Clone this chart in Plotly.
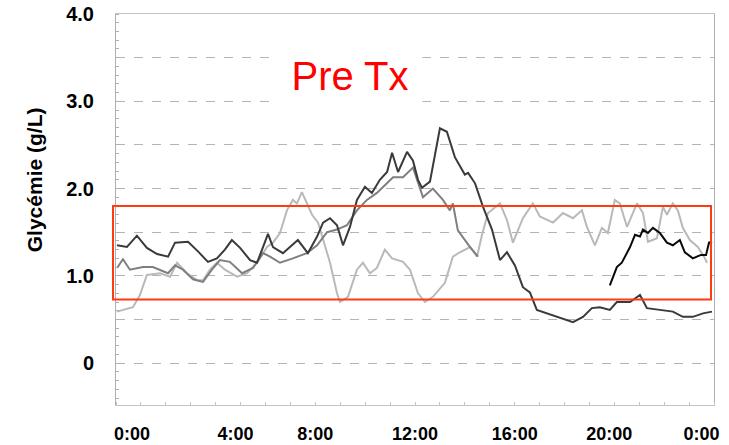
import plotly.graph_objects as go

# ---------------- data (hours of day, glycaemia g/L) ----------------
dark_t = [0.04, 0.44, 0.84, 1.24, 1.65, 2.09, 2.37, 2.89, 3.29, 3.69, 4.05, 4.37, 4.65, 4.98, 5.38,
          5.66, 5.90, 6.10, 6.30, 6.70, 7.06, 7.30, 7.70, 8.07, 8.31, 8.59, 8.87, 9.11, 9.39, 9.67,
          9.99, 10.27, 10.59, 10.88, 11.08, 11.32, 11.68, 11.92, 12.12, 12.28, 12.60, 13.00, 13.28,
          13.60, 14.00, 14.13, 14.41, 14.73, 15.09, 15.41, 15.69, 16.01, 16.33, 16.61, 16.89, 17.30,
          17.82, 18.34, 18.74, 19.10, 19.42, 19.82, 20.10, 20.63, 21.03, 21.31, 21.83, 22.35, 22.75,
          23.15, 23.56, 23.92]
dark_v = [1.35, 1.33, 1.46, 1.32, 1.25, 1.22, 1.38, 1.39, 1.28, 1.16, 1.20, 1.30, 1.41, 1.32, 1.18,
          1.15, 1.33, 1.48, 1.33, 1.26, 1.35, 1.41, 1.26, 1.45, 1.61, 1.66, 1.58, 1.35, 1.56, 1.87,
          2.02, 1.95, 2.10, 2.19, 2.41, 2.19, 2.42, 2.32, 2.10, 2.01, 2.08, 2.69, 2.65,
          2.36, 2.16, 2.18, 2.06, 1.79, 1.53, 1.18, 1.27, 1.12, 0.87, 0.81, 0.61, 0.57,
          0.52, 0.47, 0.53, 0.63, 0.64, 0.61, 0.70, 0.70, 0.78, 0.63, 0.61, 0.59, 0.53,
          0.53, 0.57, 0.59]

mid_t = [0.04, 0.28, 0.56, 1.08, 1.48, 2.09, 2.37, 2.69, 3.09, 3.49, 3.85, 4.17, 4.57, 5.06, 5.50,
         5.90, 6.18, 6.58, 7.10, 7.66, 8.07, 8.47, 8.87, 9.27, 9.67, 10.07, 10.47, 10.88, 11.12,
         11.52, 11.92, 12.32, 12.72, 13.12, 13.40, 13.52, 13.72, 14.21, 14.53]
mid_v = [1.09, 1.19, 1.07, 1.10, 1.10, 1.03, 1.12, 1.07, 0.96, 0.93, 1.07, 1.18, 1.16, 1.03, 1.09,
         1.26, 1.22, 1.15, 1.20, 1.26, 1.35, 1.50, 1.53, 1.58, 1.75, 1.87, 1.95, 2.06, 2.13,
         2.13, 2.24, 1.90, 2.00, 1.87, 1.75, 1.83, 1.52, 1.33, 1.22]

light_t = [0.04, 0.68, 0.96, 1.24, 1.77, 2.17, 2.45, 2.85, 3.25, 3.49, 3.77, 4.05, 4.37, 4.86, 5.26,
           5.66, 6.06, 6.30, 6.58, 6.86, 7.10, 7.26, 7.46, 7.66, 7.87, 8.11, 8.39, 8.59, 8.87, 8.99,
           9.31, 9.67, 9.91, 10.19, 10.47, 10.79, 11.08, 11.52, 11.80, 12.12, 12.40, 12.72, 13.20,
           13.52, 13.80, 14.21, 14.49, 14.69, 14.93, 15.41, 15.69, 15.93, 16.33, 16.73, 17.01, 17.54,
           17.94, 18.34, 18.70, 18.90, 19.22, 19.50, 19.74, 20.02, 20.22, 20.51, 20.91, 21.15, 21.35,
           21.71, 21.95, 22.11, 22.35, 22.55, 22.75, 23.03, 23.35, 23.60, 23.72]
light_v = [0.59, 0.64, 0.78, 1.01, 1.03, 0.99, 1.15, 1.03, 0.95, 0.95, 1.07, 1.15, 1.07, 0.99, 1.03,
           1.15, 1.33, 1.38, 1.49, 1.75, 1.87, 1.83, 1.96, 1.83, 1.70, 1.61, 1.33, 1.15, 0.80, 0.70,
           0.76, 1.07, 1.15, 1.03, 1.09, 1.30, 1.20, 1.16, 1.07, 0.80, 0.70, 0.76, 0.92,
           1.22, 1.27, 1.33, 1.22, 1.47, 1.72, 1.83, 1.64, 1.38, 1.66, 1.83, 1.68, 1.61,
           1.72, 1.66, 1.75, 1.56, 1.35, 1.55, 1.49, 1.87, 1.83, 1.56, 1.83, 1.72, 1.39,
           1.43, 1.79, 1.70, 1.83, 1.75, 1.55, 1.41, 1.33, 1.22, 1.15]

black_t = [19.82, 20.10, 20.30, 20.63, 20.83, 21.03, 21.15, 21.35, 21.55, 21.83, 22.11, 22.35,
           22.63, 22.83, 23.15, 23.48, 23.68, 23.80, 23.92]
black_v = [0.89, 1.10, 1.15, 1.33, 1.47, 1.45, 1.53, 1.49, 1.55, 1.49, 1.38, 1.35,
           1.41, 1.27, 1.20, 1.24, 1.24, 1.38, 1.39]

x_tick_vals = [0.64, 4.8, 8.0, 12.0, 16.0, 19.8, 23.5]
x_tick_text = ["0:00", "4:00", "8:00", "12:00", "16:00", "20:00", "0:00"]
y_tick_vals = [0, 0.5, 1.0, 1.5, 2.0, 2.5, 3.0, 3.5, 4.0]
y_tick_text = ["0", "", "1.0", "", "2.0", "", "3.0", "", "4.0"]

target_low, target_high = 0.73, 1.80
title_text = "Pre Tx"
y_title = "Glycémie (g/L)"

# ---------------- figure ----------------
fig = go.Figure()
series = [
    (light_t, light_v, "#b9b9b9"),
    (mid_t, mid_v, "#7f7f7f"),
    (dark_t, dark_v, "#3a3a3a"),
    (black_t, black_v, "#0a0a0a"),
]
for t, v, c in series:
    fig.add_trace(go.Scatter(x=t, y=v, mode="lines",
                             line=dict(color=c, width=2), showlegend=False, hoverinfo="skip"))

fig.add_shape(type="rect", xref="paper", yref="y",
              x0=-0.005, x1=0.995, y0=target_low, y1=target_high,
              line=dict(color="#ff3b12", width=2), fillcolor="rgba(0,0,0,0)", layer="above")

fig.add_annotation(x=9.4, y=3.29, xref="x", yref="y", text=title_text, showarrow=False,
                   font=dict(family="Liberation Sans, Arial", size=40, color="#ff0000"),
                   bgcolor="white", width=142, height=58, xanchor="center", yanchor="middle")

fig.add_annotation(x=-0.137, y=0.575, xref="paper", yref="paper", text="<b>" + y_title + "</b>",
                   showarrow=False, textangle=-90,
                   font=dict(family="Liberation Sans, Arial", size=21, color="#000000"),
                   xanchor="center", yanchor="middle")

fig.update_layout(
    width=729, height=445,
    margin=dict(l=116, r=15, t=14, b=40, autoexpand=False),
    paper_bgcolor="white", plot_bgcolor="white",
    font=dict(family="Liberation Sans, Arial", color="#000000"),
)
fig.update_xaxes(
    range=[0, 24], tickvals=x_tick_vals, ticktext=["<b>%s</b>" % s for s in x_tick_text],
    tickfont=dict(size=18), showgrid=False, zeroline=False, automargin=False,
    showline=True, linecolor="#c4c4c4", linewidth=1, mirror=True,
    ticks="", ticklabelstandoff=12,
    minor=dict(ticks="inside", ticklen=3, dtick=1, tickcolor="#c4c4c4", showgrid=False),
)
fig.update_yaxes(
    range=[-0.48, 4.0], tickvals=y_tick_vals, ticktext=["<b>%s</b>" % s if s else "" for s in y_tick_text],
    tickfont=dict(size=20), showgrid=True, gridcolor="#b3b3b3", griddash="dash", gridwidth=1,
    zeroline=False, showline=True, linecolor="#b0b0b0", linewidth=1, mirror=True, automargin=False,
    ticks="", ticklabelstandoff=17,
    minor=dict(ticks="inside", ticklen=3, dtick=0.1, tickcolor="#b0b0b0", showgrid=False),
)

fig.write_html("out.html", config={"displayModeBar": False},
               post_script="document.body.style.margin='0';")
